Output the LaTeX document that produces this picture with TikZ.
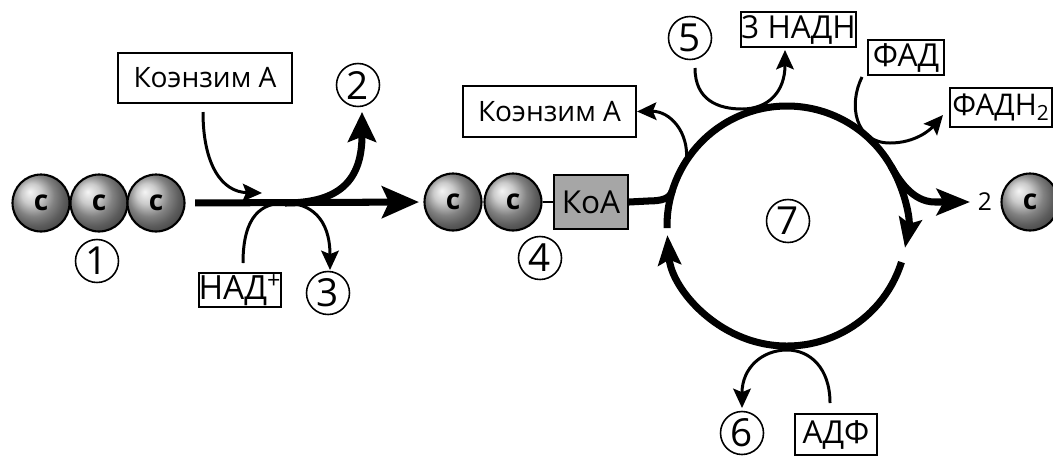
\documentclass[tikz,border=0pt]{standalone}
\usepackage{fontspec}
\setmainfont{Open Sans}
\usetikzlibrary{arrows.meta}
\definecolor{kog}{RGB}{166,166,166}
\begin{document}
\begin{tikzpicture}[x=0.02cm,y=-0.02cm,
  thickln/.style={line width=4pt},
  thinln/.style={line width=1.7pt},
  maintip/.style={-{Stealth[length=21pt,width=18pt,inset=4pt]}},
  uptip/.style={-{Stealth[length=17pt,width=16pt,inset=3pt]}},
  cyctip/.style={-{Stealth[length=17pt,width=13pt,inset=3pt]}},
  outtip/.style={-{Stealth[length=19pt,width=15pt,inset=4pt]}},
  smtip/.style={-{Stealth[length=11pt,width=10pt,inset=2pt]}},
  ballc/.style={circle, draw=black, line width=1.2pt, ball color=gray!55, minimum size=1.14cm, inner sep=0pt, font=\fontsize{16}{16}\selectfont\bfseries},
  lbl/.style={circle, draw=black, line width=0.9pt, minimum size=0.86cm, inner sep=0pt, font=\fontsize{22}{22}\selectfont},
  bx/.style={draw=black, line width=1.2pt, inner sep=0pt, fill=white},
  txa/.style={font=\fontsize{16}{16}\selectfont},
  txb/.style={font=\fontsize{18}{18}\selectfont}
]
\useasboundingbox (0,0) rectangle (1053,457);
\fill[white] (0,0) rectangle (1053,457);

% left part
\node[ballc] (b1) at (41,203) {c};
\node[ballc] (b2) at (99,203) {c};
\node[ballc] (b3) at (156,203) {c};
\node[lbl] (n1) at (97,261) {1};
\node[bx, txa, minimum width=3.48cm, minimum height=1cm] (ko1) at (205,78) {Коэнзим А};
\node[lbl] (n2) at (358,85) {2};
\node[bx, font=\fontsize{19}{19}\selectfont, minimum width=1.64cm, minimum height=0.68cm] (nad) at (240,290) {НАД\textsuperscript{+}};
\node[lbl] (n3) at (328,293) {3};

% middle
\node[ballc] (b4) at (453,202) {c};
\node[ballc] (b5) at (513,202) {c};
\node[bx, fill=kog, txb, minimum width=1.48cm, minimum height=1.08cm] (koa) at (591,202) {КоА};
\node[lbl] (n4) at (540,258) {4};
\node[bx, txa, minimum width=3.46cm, minimum height=1.02cm] (ko2) at (549.5,111.5) {Коэнзим А};

% cycle
\coordinate (C) at (787,226);
\node[lbl] (n5) at (690,38) {5};
\node[bx, txb, minimum width=2.18cm, minimum height=0.70cm] (nadh) at (798.5,29.5) {3 НАДН};
\node[bx, txb, minimum width=1.52cm, minimum height=0.70cm] (fad) at (906,57.5) {ФАД};
\node[bx, font=\fontsize{17}{17}\selectfont, minimum width=2.04cm, minimum height=0.78cm] (fadh) at (1001,107.5) {ФАДН\textsubscript{2}};
\node[lbl] (n7) at (788,221) {7};
\node[lbl] (n6) at (742,433) {6};
\node[bx, txb, minimum width=1.64cm, minimum height=0.82cm] (adf) at (836,434.5) {АДФ};
\node[font=\fontsize{14}{14}\selectfont, inner sep=0pt] (two) at (985,202) {2};
\node[ballc] (b6) at (1030,202) {c};

% coordinates for free ends
\coordinate (s1) at (203,112);
\coordinate (t1) at (262,193);
\coordinate (m1) at (285,203);
\coordinate (t2) at (362,112);
\coordinate (s3) at (243,263);
\coordinate (t3) at (330,270);
\coordinate (j1) at (672.2,190.9);
\coordinate (c213) at (686.4,160.6);
\coordinate (j2) at (890.9,166);
\coordinate (t4) at (970,202);
\coordinate (s5) at (695,68);
\coordinate (t5) at (785,50);
\coordinate (s6) at (862,77);
\coordinate (t6) at (943,115);
\coordinate (s7) at (830,403);
\coordinate (t7) at (742,408);

% main arrow
\draw[thickln, maintip, shorten <=0.19cm, shorten >=0.09cm] (b3.east) -- (b4.west);
\draw[thickln, uptip] (m1) .. controls (340,203) and (362,180) .. (t2);
\draw[thinln, smtip] (s1) .. controls (203,165) and (222,192) .. (t1);
\draw[thinln, smtip] (s3) .. controls (243,215) and (262,203) .. (m1) .. controls (310,203) and (330,218) .. (t3);

% KoA link
\draw[line width=1pt] (b5.east) -- (koa.west);
\draw[thickln] (koa.east) -- (648,201) .. controls (662,201) and (670,198.5) .. (j1);

% cycle arcs
\draw[thickln, cyctip] (C) ++(179:120) arc[start angle=179, end angle=370.5, radius=120];
\draw[thickln, cyctip] (C) ++(17.5:120) arc[start angle=17.5, end angle=175.7, radius=120];

% exit branch
\draw[thickln, outtip] (j2) .. controls (898.4,179) and (912,202) .. (935,202) -- (t4);

% thin arrows on cycle
\draw[thinln, smtip] (c213) .. controls (689,132) and (670,111) .. (ko2.east);
\draw[thinln, smtip] (s5) .. controls (695,100) and (718,109) .. (742,109) .. controls (768,109) and (785,92) .. (t5);
\draw[thinln, smtip] (s6) .. controls (848,105) and (855,143) .. (890,143) .. controls (915,143) and (930,130) .. (t6);
\draw[thinln, smtip] (s7) .. controls (830,368) and (810,350) .. (787,350) .. controls (762,350) and (742,368) .. (t7);
\end{tikzpicture}
\end{document}
